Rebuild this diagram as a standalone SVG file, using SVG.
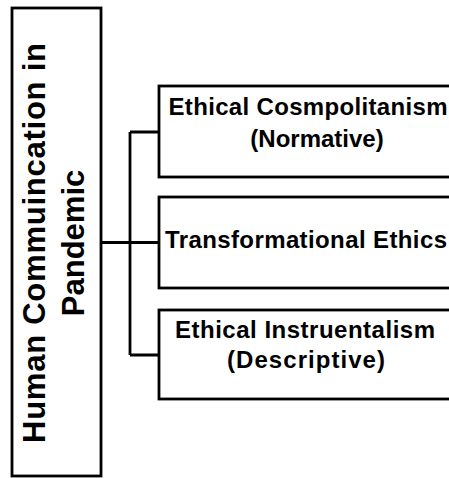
<svg xmlns="http://www.w3.org/2000/svg" width="449" height="478" viewBox="0 0 449 478">
<style>
.box{fill:#fff;stroke:#000;stroke-width:2.8}
.conn{fill:none;stroke:#000;stroke-width:2.8}
text{font-family:"Liberation Sans",Arial,sans-serif;font-weight:bold;fill:#000}
.t{font-size:24px;text-anchor:middle}
.m{font-size:31px;text-anchor:middle}
</style>
<rect width="449" height="478" fill="#fff"/>
<g id="connectors">
<path class="conn" d="M101 242.5H159M130 132V355M130 132H159M130 355H159"/>
</g>
<g id="main">
<rect class="box" x="12" y="8" width="89" height="468"/>
<g transform="translate(0,243) rotate(-90)">
<text class="m" x="0" y="45" textLength="400">Human Commuincation in</text>
<text class="m" x="0" y="84">Pandemic</text>
</g>
</g>
<g id="n1">
<rect class="box" x="159" y="86" width="310" height="91"/>
<text class="t" x="308" y="115" textLength="279">Ethical Cosmpolitanism</text>
<text class="t" x="317" y="147">(Normative)</text>
</g>
<g id="n2">
<rect class="box" x="159" y="197" width="310" height="91"/>
<text class="t" x="306" y="248" textLength="282">Transformational Ethics</text>
</g>
<g id="n3">
<rect class="box" x="159" y="310" width="310" height="89"/>
<text class="t" x="305" y="338" textLength="260">Ethical Instruentalism</text>
<text class="t" x="306" y="368" textLength="158">(Descriptive)</text>
</g>
</svg>
